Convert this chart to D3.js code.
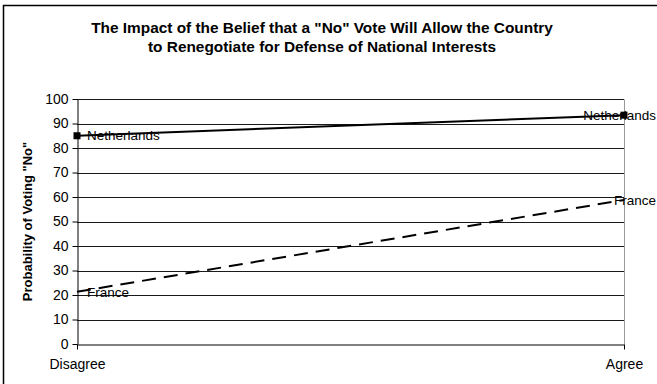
<!DOCTYPE html>
<html>
<head>
<meta charset="utf-8">
<script src="https://cdn.jsdelivr.net/npm/d3@7"></script>
<style>
  html, body { margin: 0; padding: 0; background: #fff; }
  svg { display: block; font-family: "Liberation Sans", Arial, sans-serif; }
</style>
</head>
<body>
<svg id="chart" width="657" height="384"></svg>
<script>
// Response categories on the x axis
const categories = ["Disagree", "Agree"];
// Probability of voting "No" (%) by country
const netherlands = [85, 93.4];
const france = [21.3, 58.8];
const yTicks = [0, 10, 20, 30, 40, 50, 60, 70, 80, 90, 100];
const titleLines = [
  "The Impact of the Belief that a \"No\" Vote Will Allow the Country",
  "to Renegotiate for Defense of National Interests"
];
const yTitle = "Probability of Voting \"No\"";

const series = [
  { name: "Netherlands", values: netherlands, dash: null, marker: true },
  { name: "France", values: france, dash: "14,8", marker: false }
];

const FONT = "'Liberation Sans', Arial, sans-serif";
const svg = d3.select("#chart");
const plot = { left: 77, right: 624, top: 99, bottom: 344 };

// Chart area frame (extends past the right and bottom edges)
svg.append("rect")
  .attr("x", 3.5).attr("y", 5.5)
  .attr("width", 700).attr("height", 400)
  .attr("fill", "none").attr("stroke", "#000").attr("stroke-width", 1.5);

// Title
svg.append("g").selectAll("text").data(titleLines).join("text")
  .attr("x", 322).attr("y", (d, i) => 33 + i * 19)
  .attr("text-anchor", "middle")
  .attr("font-size", 15.4).attr("font-weight", "bold")
  .text(d => d);

const x = d3.scalePoint().domain(categories).range([plot.left, plot.right]);
const y = d3.scaleLinear().domain([0, 100]).range([plot.bottom, plot.top]);

// Horizontal gridlines
svg.append("g").selectAll("line").data(yTicks.filter(t => t > 0)).join("line")
  .attr("x1", plot.left).attr("x2", plot.right)
  .attr("y1", d => Math.round(y(d)) + 0.5).attr("y2", d => Math.round(y(d)) + 0.5)
  .attr("stroke", "#1a1a1a").attr("stroke-width", 1);

// Right plot border
svg.append("line")
  .attr("x1", plot.right + 0.5).attr("x2", plot.right + 0.5)
  .attr("y1", Math.round(y(100)) + 0.5).attr("y2", plot.bottom)
  .attr("stroke", "#999").attr("stroke-width", 1);

// Y axis
svg.append("g")
  .attr("transform", `translate(${plot.left + 0.5},0)`)
  .call(d3.axisLeft(y).tickValues(yTicks).tickSize(5).tickPadding(4).tickSizeOuter(0))
  .call(g => g.selectAll("text").attr("font-size", 14).attr("fill", "#000").attr("font-family", FONT))
  .call(g => g.selectAll("line, path").attr("stroke", "#000"));

// X axis
svg.append("g")
  .attr("transform", `translate(0,${Math.round(y(0)) + 0.5})`)
  .call(d3.axisBottom(x).tickSize(5).tickPadding(10).tickSizeOuter(0))
  .call(g => g.selectAll("text").attr("font-size", 14).attr("fill", "#000").attr("font-family", FONT))
  .call(g => g.selectAll("line, path").attr("stroke", "#000"));

// Y axis title
svg.append("text")
  .attr("transform", `translate(32,${(plot.top + plot.bottom) / 2}) rotate(-90)`)
  .attr("text-anchor", "middle")
  .attr("font-size", 13).attr("font-weight", "bold")
  .text(yTitle);

// Lines
const line = d3.line().x((d, i) => x(categories[i])).y(d => y(d));
svg.append("g").selectAll("path").data(series).join("path")
  .attr("d", d => line(d.values))
  .attr("fill", "none").attr("stroke", "#000").attr("stroke-width", 2)
  .attr("stroke-dasharray", d => d.dash);

// Square markers
series.filter(s => s.marker).forEach(s => {
  svg.append("g").selectAll("rect").data(s.values).join("rect")
    .attr("x", (d, i) => x(categories[i]) - 3.5)
    .attr("y", d => y(d) - 3.5)
    .attr("width", 7).attr("height", 7)
    .attr("fill", "#000");
});

// Data labels: name beside each end point, kept inside the chart on the right
series.forEach(s => {
  s.values.forEach((v, i) => {
    const first = i === 0;
    svg.append("text")
      .attr("x", first ? x(categories[i]) + 10 : 656)
      .attr("y", y(v))
      .attr("dy", "0.35em")
      .attr("text-anchor", first ? "start" : "end")
      .attr("font-size", 13.5)
      .text(s.name);
  });
});
</script>
</body>
</html>
